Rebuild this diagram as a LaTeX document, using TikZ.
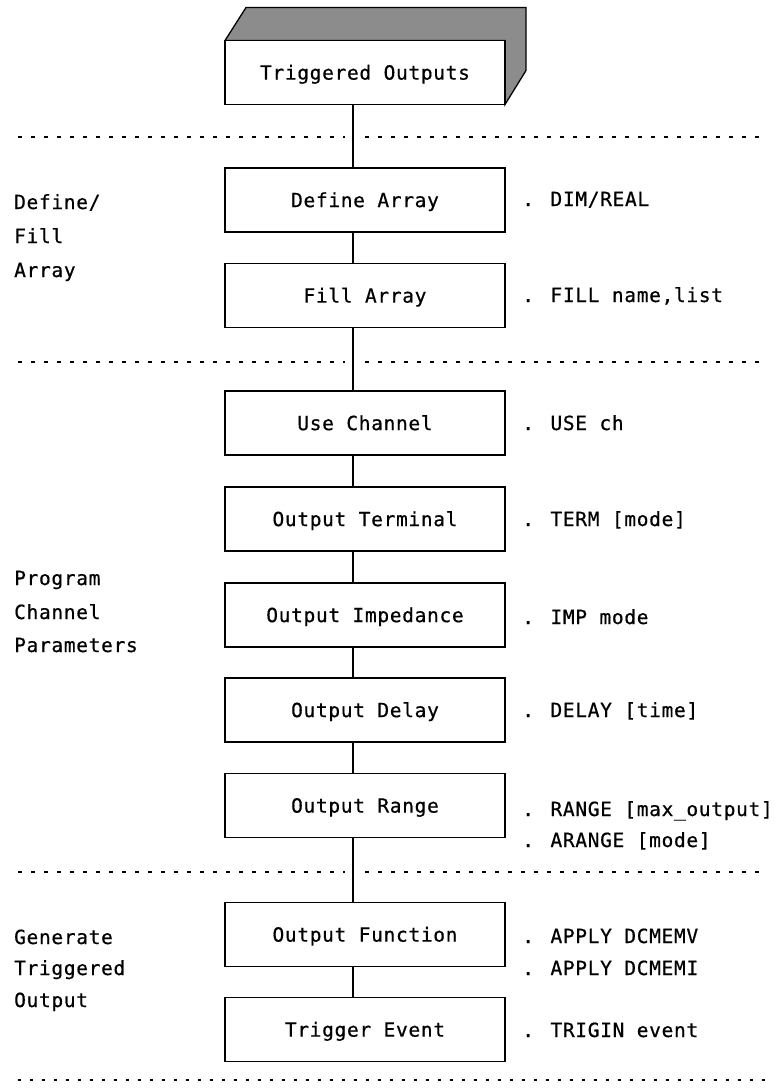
\documentclass[tikz,border=0pt]{standalone}
\usepackage{fontspec}
\newfontfamily\dmono[LetterSpace=3.5,FakeBold=0.6]{DejaVu Sans Mono}
\usetikzlibrary{calc}
\begin{document}
\begin{tikzpicture}[x=1pt,y=-1pt,
  every node/.style={font=\dmono\fontsize{19.5}{23}\selectfont, inner sep=0pt},
  box/.style={draw, line width=1.5pt, fill=white, minimum width=280pt, minimum height=64pt, text height=14.2pt, text depth=0pt},
  note/.style={anchor=base west},
  lbl/.style={anchor=base west},
  link/.style={line width=1.3pt},
  sep/.style={line width=1.4pt, dash pattern=on 4pt off 9pt},
  dotline/.style={line width=2.8pt, dash pattern=on 2.8pt off 9.2pt},
  shade/.style={draw, line width=1.3pt, fill=black!45}]
\useasboundingbox (0,0) rectangle (779,1092);

% boxes
\coordinate (tb) at (365,72.5);
\path[shade] ($(tb)+(-140,-32)$) -- ++(21,-33) -- ($(tb)+(161,-65)$) -- ($(tb)+(161,-2)$) -- ($(tb)+(140,32)$) -- ($(tb)+(140,-32)$) -- cycle;
\node[box] (top) at (tb) {Triggered Outputs};
\node[box] (def) at (365,200) {Define Array};
\node[box] (fill) at (365,295.5) {Fill Array};
\node[box] (use) at (365,423) {Use Channel};
\node[box] (term) at (365,519) {Output Terminal};
\node[box] (imp) at (365,615) {Output Impedance};
\node[box] (dly) at (365,710) {Output Delay};
\node[box] (rng) at (365,805.5) {Output Range};
\node[box] (fun) at (365,934.5) {Output Function};
\node[box] (trg) at (365,1029.5) {Trigger Event};

% connectors
\foreach \a/\b in {top/def, def/fill, fill/use, use/term, term/imp, imp/dly, dly/rng, rng/fun, fun/trg}
  \draw[link] ([xshift=-12pt]\a.south) -- ([xshift=-12pt]\b.north);

% separators
\coordinate (s1l) at (18,137);  \coordinate (s1m) at (345,137); \coordinate (s1n) at (365,137); \coordinate (s1r) at (765,137);
\coordinate (s2l) at (18,362);  \coordinate (s2m) at (345,362); \coordinate (s2n) at (365,362); \coordinate (s2r) at (765,362);
\coordinate (s3l) at (18,872);  \coordinate (s3m) at (345,872); \coordinate (s3n) at (365,872); \coordinate (s3r) at (765,872);
\coordinate (s4l) at (18,1080); \coordinate (s4r) at (765,1080);
\draw[sep] (s1l) -- (s1m); \draw[sep] (s1n) -- (s1r);
\draw[sep] (s2l) -- (s2m); \draw[sep] (s2n) -- (s2r);
\draw[sep] (s3l) -- (s3m); \draw[sep] (s3n) -- (s3r);
\draw[dotline] (s4l) -- (s4r);

% notes
\node[note] (n1) at (522,206) {. DIM/REAL};
\node[note] (n2) at (522,302) {. FILL name,list};
\node[note] (n3) at (522,430) {. USE ch};
\node[note] (n4) at (522,526) {. TERM [mode]};
\node[note] (n5) at (522,624) {. IMP mode};
\node[note] (n6) at (522,717) {. DELAY [time]};
\node[note] (n7) at (522,816) {. RANGE [max\_output]};
\node[note] (n8) at (522,847) {. ARANGE [mode]};
\node[note] (n9) at (522,943) {. APPLY DCMEMV};
\node[note] (n10) at (522,975) {. APPLY DCMEMI};
\node[note] (n11) at (522,1037) {. TRIGIN event};

% left labels
\node[lbl] (l1) at (14,209) {Define/};
\node[lbl] (l2) at (14,243) {Fill};
\node[lbl] (l3) at (14,277) {Array};
\node[lbl] (l4) at (14,585) {Program};
\node[lbl] (l5) at (14,619) {Channel};
\node[lbl] (l6) at (14,652) {Parameters};
\node[lbl] (l7) at (14,944) {Generate};
\node[lbl] (l8) at (14,975) {Triggered};
\node[lbl] (l9) at (14,1007) {Output};
\end{tikzpicture}
\end{document}
